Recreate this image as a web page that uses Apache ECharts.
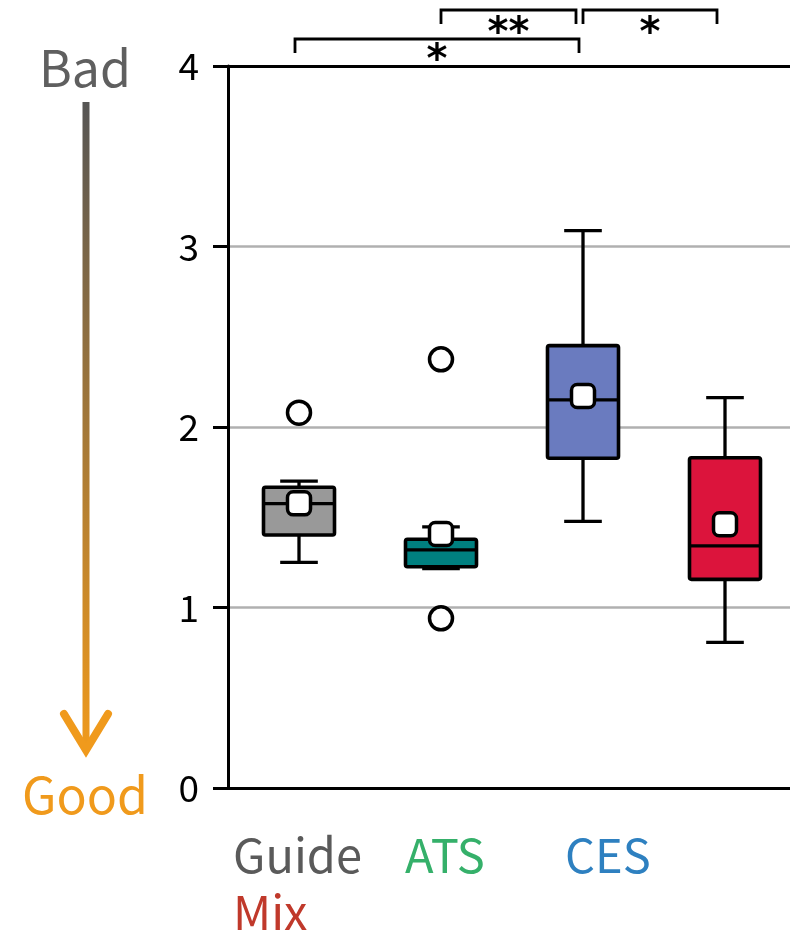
<!DOCTYPE html>
<html>
<head>
<meta charset="utf-8">
<script src="https://cdn.jsdelivr.net/npm/echarts@6/dist/echarts.min.js"></script>
<style>
  html, body { margin: 0; padding: 0; background: #fff; overflow: hidden; }
  #main { width: 796px; height: 933px; }
</style>
</head>
<body>
<div id="main"></div>
<script>
var categories = ['Guide', 'ATS', 'CES', 'Mix'];
// low whisker, Q1, median, Q3, high whisker
var boxLow    = [1.25, 1.215, 1.477, 0.807];
var boxQ1     = [1.402, 1.226, 1.827, 1.156];
var boxMedian = [1.575, 1.319, 2.150, 1.341];
var boxQ3     = [1.666, 1.378, 2.451, 1.830];
var boxHigh   = [1.700, 1.447, 3.088, 2.163];
var means     = [1.577, 1.407, 2.172, 1.461];
var outlierCat = [0, 1, 1];
var outlierVal = [2.079, 2.375, 0.940];
var boxColors   = ['#999999', '#008080', '#6a7bbf', '#dc143c'];
var labelColors = ['#5a5a5a', '#35b06a', '#2e80c0', '#c0392b'];
var yTicks = [0, 1, 2, 3, 4];

var FONT = 'Noto Sans CJK JP';
var myChart = echarts.init(document.getElementById('main'));

var boxData = categories.map(function (c, i) {
    return [i, boxLow[i], boxQ1[i], boxMedian[i], boxQ3[i], boxHigh[i]];
});

function renderBox(params, api) {
    var x = api.value(0);
    var low = api.coord([x, api.value(1)]);
    var q1 = api.coord([x, api.value(2)]);
    var med = api.coord([x, api.value(3)]);
    var q3 = api.coord([x, api.value(4)]);
    var high = api.coord([x, api.value(5)]);
    var bw = api.size([1, 0])[0] * 0.5;
    var cw = bw * 0.53;
    var cx = low[0];
    var ln = { stroke: '#000', lineWidth: 3.3 };
    return {
        type: 'group',
        children: [
            { type: 'line', shape: { x1: cx, y1: low[1], x2: cx, y2: q1[1] }, style: ln },
            { type: 'line', shape: { x1: cx, y1: q3[1], x2: cx, y2: high[1] }, style: ln },
            { type: 'line', shape: { x1: cx - cw / 2, y1: low[1], x2: cx + cw / 2, y2: low[1] }, style: ln },
            { type: 'line', shape: { x1: cx - cw / 2, y1: high[1], x2: cx + cw / 2, y2: high[1] }, style: ln },
            { type: 'rect', shape: { x: cx - bw / 2, y: q3[1], width: bw, height: q1[1] - q3[1], r: 2 },
              style: { fill: boxColors[x], stroke: '#000', lineWidth: 3.6, lineJoin: 'round' } },
            { type: 'line', shape: { x1: cx - bw / 2, y1: med[1], x2: cx + bw / 2, y2: med[1] }, style: ln }
        ]
    };
}

var option = {
    animation: false,
    backgroundColor: '#fff',
    grid: { left: 228, top: 66, width: 568, bottom: 145 },
    xAxis: [{
        type: 'category',
        data: categories,
        boundaryGap: true,
        axisLine: { lineStyle: { color: '#000', width: 3 } },
        axisTick: { alignWithLabel: true, length: 14, lineStyle: { color: '#000', width: 3 } },
        axisLabel: { show: false },
        splitLine: { show: false }
    }, {
        type: 'category',
        data: categories,
        position: 'top',
        axisLine: { lineStyle: { color: '#000', width: 3 } },
        axisTick: { show: false },
        axisLabel: { show: false }
    }],
    yAxis: {
        type: 'value',
        min: 0, max: 4, interval: 1,
        axisLine: { show: true, lineStyle: { color: '#000', width: 3 } },
        axisTick: { show: true, length: 15, lineStyle: { color: '#000', width: 3 } },
        axisLabel: { color: '#000', fontSize: 37, fontFamily: FONT, margin: 29,
            formatter: function (v) { return yTicks.indexOf(v) >= 0 ? String(v) : ''; } },
        splitLine: { show: true, lineStyle: { color: '#b0b0b0', width: 2.5 } }
    },
    series: [{
        type: 'custom',
        renderItem: renderBox,
        data: boxData,
        encode: { x: 0, y: [1, 2, 3, 4, 5] },
        z: 3
    }, {
        type: 'scatter',
        data: means.map(function (m, i) { return [i, m]; }),
        symbol: 'roundRect',
        symbolSize: 23,
        itemStyle: { color: '#fff', borderColor: '#000', borderWidth: 3.5, opacity: 1 },
        z: 5
    }, {
        type: 'scatter',
        data: outlierCat.map(function (c, i) { return [c, outlierVal[i]]; }),
        symbol: 'circle',
        symbolSize: 23,
        itemStyle: { color: '#fff', borderColor: '#000', borderWidth: 3.5, opacity: 1 },
        z: 5
    }]
};
myChart.setOption(option);

// significance brackets and decorations
function px(i) { return myChart.convertToPixel({ xAxisIndex: 0 }, i); }
function bracket(a, b, offA, offB, y, label, ly) {
    var x1 = px(a) + offA, x2 = px(b) + offB;
    return [{
        type: 'polyline',
        shape: { points: [[x1, y + 14], [x1, y], [x2, y], [x2, y + 14]] },
        style: { stroke: '#000', lineWidth: 2.8, fill: null }
    }, {
        type: 'text',
        x: (x1 + x2) / 2, y: ly,
        style: { text: label, fill: '#000', fontSize: 40, fontWeight: 'bold', fontFamily: 'DejaVu Sans', align: 'center', verticalAlign: 'middle' }
    }];
}

var graphics = []
    .concat(bracket(0, 2, -4, -4, 39, '*', 62))
    .concat(bracket(1, 2, 0, -7, 10, '**', 35))
    .concat(bracket(2, 3, 0, -8, 10, '*', 35));

var labelPos = [[233, 855], [405, 855], [565, 855], [233, 912]];
categories.forEach(function (c, i) {
    graphics.push({
        type: 'text', x: labelPos[i][0], y: labelPos[i][1],
        style: { text: c, fill: labelColors[i], fontSize: 47, fontFamily: FONT, verticalAlign: 'middle' }
    });
});

graphics.push({
    type: 'line',
    shape: { x1: 86, y1: 102, x2: 86, y2: 748 },
    style: {
        lineWidth: 7,
        stroke: new echarts.graphic.LinearGradient(0, 0, 0, 1, [
            { offset: 0, color: '#555555' },
            { offset: 1, color: '#f09a1c' }
        ])
    }
});
graphics.push({
    type: 'polyline',
    shape: { points: [[64, 714], [86, 750], [108, 714]] },
    style: { stroke: '#f09a1c', lineWidth: 8, lineCap: 'round', lineJoin: 'miter', fill: null }
});
graphics.push({
    type: 'text', x: 85, y: 68,
    style: { text: 'Bad', fill: '#5f5f5f', fontSize: 50, fontFamily: FONT, align: 'center', verticalAlign: 'middle' }
});
graphics.push({
    type: 'text', x: 85, y: 795,
    style: { text: 'Good', fill: '#f09a1c', fontSize: 50, fontFamily: FONT, align: 'center', verticalAlign: 'middle' }
});

myChart.setOption({ graphic: graphics });
</script>
</body>
</html>
